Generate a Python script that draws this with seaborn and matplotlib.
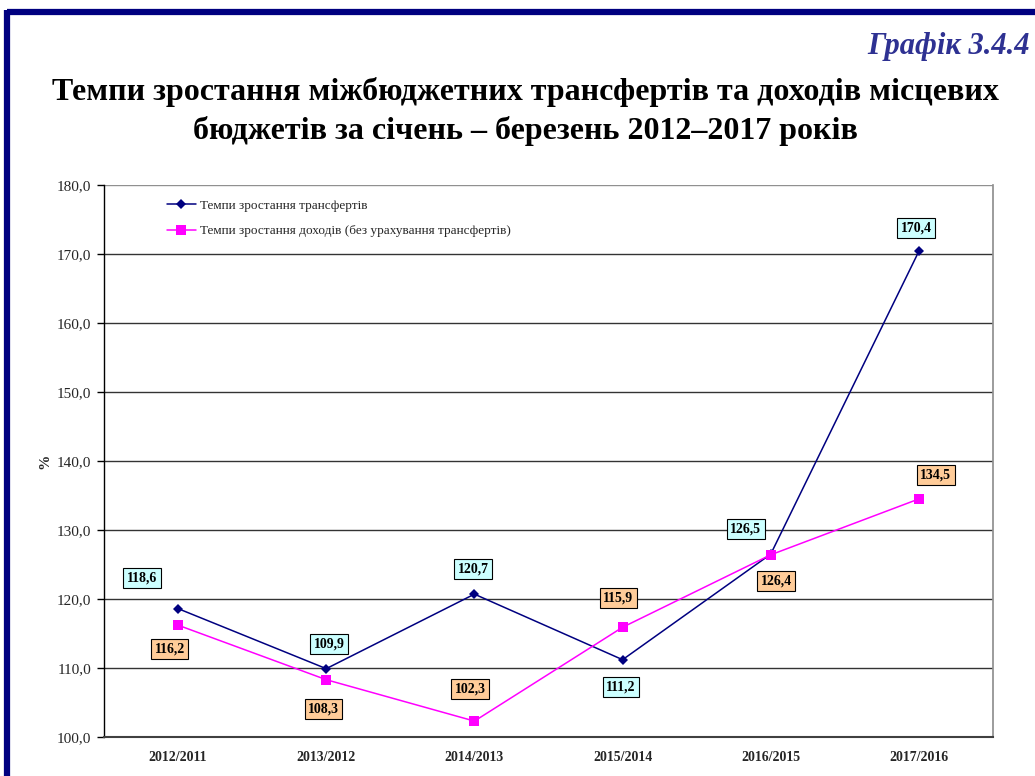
import matplotlib
matplotlib.use("Agg")
import matplotlib.pyplot as plt
from matplotlib.lines import Line2D
import seaborn as sns
import pandas as pd

periods = ["2012/2011", "2013/2012", "2014/2013", "2015/2014", "2016/2015", "2017/2016"]
transfers = [118.6, 109.9, 120.7, 111.2, 126.5, 170.4]
income = [116.2, 108.3, 102.3, 115.9, 126.4, 134.5]
name_transfers = "Темпи зростання трансфертів"
name_income = "Темпи зростання доходів (без урахування трансфертів)"
y_ticks = [100, 110, 120, 130, 140, 150, 160, 170, 180]

# label offsets in points (dx, dy) relative to each marker
off_transfers = [(-26, 22), (2, 18), (-1, 18), (-1, -20), (-18, 18), (-2, 17)]
off_income = [(-6, -17), (-2, -21), (-3, 23), (-3, 21), (4, -19), (12, 17)]

sns.set_theme(style="white")
plt.rcParams["font.family"] = ["Liberation Serif", "DejaVu Serif"]

df = pd.DataFrame({
    "period": periods * 2,
    "value": transfers + income,
    "series": [name_transfers] * len(periods) + [name_income] * len(periods),
})

fig = plt.figure(figsize=(10.35, 7.76), dpi=100)
ax = fig.add_axes([0.1005, 0.0503, 0.8589, 0.7113])

sns.lineplot(data=df, x="period", y="value", hue="series", style="series",
             palette={name_transfers: "#000080", name_income: "#FF00FF"},
             markers={name_transfers: "D", name_income: "s"},
             dashes=False, sort=False, ax=ax, linewidth=1.1,
             markeredgewidth=0)
for ln in ax.get_lines():
    if ln.get_marker() == "D":
        ln.set_markersize(5)
    elif ln.get_marker() == "s":
        ln.set_markersize(6.5)

ax.set_xlim(-0.5, len(periods) - 0.5)
ax.set_ylim(100, 180)
ax.set_yticks(y_ticks)
ax.set_yticklabels([f"{v:.1f}".replace(".", ",") for v in y_ticks], fontsize=11)
ax.set_xticks(range(len(periods)))
ax.set_xticklabels(periods, fontsize=10, fontweight="bold")
ax.set_xticks([i - 0.5 for i in range(len(periods) + 1)], minor=True)
ax.tick_params(axis="x", which="major", length=0, pad=10)
ax.tick_params(axis="x", which="minor", length=5, width=1, color="black", direction="out")
ax.tick_params(axis="y", length=5, width=1, color="black", direction="out", left=True, pad=4)
ax.set_xlabel("")
ax.set_ylabel("%", fontsize=11, fontweight="bold", labelpad=4)

for v in y_ticks[1:-1]:
    ax.axhline(v, color="#333333", lw=1.0, zorder=0)
ax.axhline(180, color="#909090", lw=1.0, zorder=0)

for side in ["left", "bottom"]:
    ax.spines[side].set_color("black")
    ax.spines[side].set_linewidth(1.0)
ax.spines["bottom"].set_color("#404040")
ax.spines["bottom"].set_linewidth(1.5)
ax.spines["right"].set_color("#909090")
ax.spines["top"].set_visible(False)

def annotate(vals, offs, fc):
    for i, (v, (dx, dy)) in enumerate(zip(vals, offs)):
        ax.annotate(f"{v:.1f}".replace(".", ","), (i, v), xytext=(dx, dy),
                    textcoords="offset points", ha="center", va="center",
                    fontsize=10, fontweight="bold", color="black",
                    bbox=dict(boxstyle="square,pad=0.25", fc=fc, ec="black", lw=0.8),
                    zorder=5)

annotate(transfers, off_transfers, "#CCFFFF")
annotate(income, off_income, "#FFCC99")

leg = ax.legend(loc="upper left", bbox_to_anchor=(0.057, 0.995), frameon=False,
                fontsize=9.5, handlelength=2.2, handletextpad=0.3, labelspacing=1.0,
                title=None)

fig.text(0.995, 0.940, "Графік 3.4.4", ha="right", va="center", fontsize=22,
         fontstyle="italic", fontweight="bold", color="#2E3192")
fig.text(0.508, 0.882, "Темпи зростання міжбюджетних трансфертів та доходів місцевих",
         ha="center", va="center", fontsize=23, fontweight="bold", color="black")
fig.text(0.508, 0.831, "бюджетів за січень – березень 2012–2017 років",
         ha="center", va="center", fontsize=23, fontweight="bold", color="black")

# frame along the top and left edges
fig.add_artist(Line2D([0.0068, 1.0], [0.984, 0.984], transform=fig.transFigure,
                      color="#000080", lw=4.5, solid_capstyle="butt"))
fig.add_artist(Line2D([0.0068, 0.0068], [0.0, 0.987], transform=fig.transFigure,
                      color="#000080", lw=4.5, solid_capstyle="butt"))

fig.savefig("out.png", dpi=100)
